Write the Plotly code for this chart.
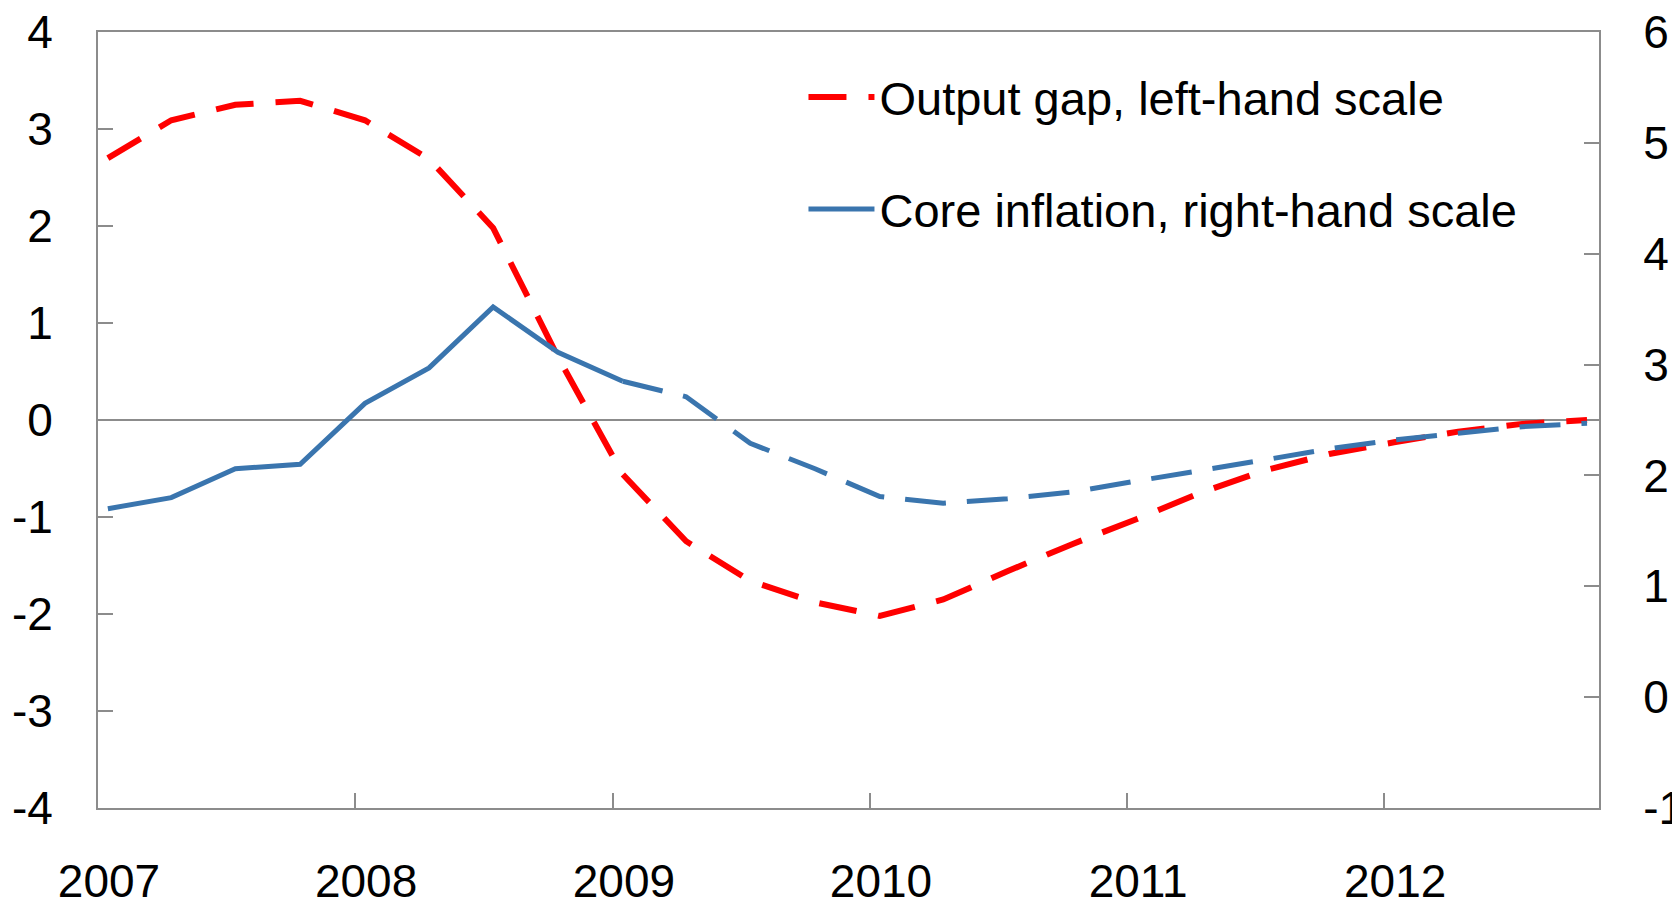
import plotly.graph_objects as go

quarters = ["2007-01-15", "2007-04-15", "2007-07-15", "2007-10-15",
            "2008-01-15", "2008-04-15", "2008-07-15", "2008-10-15",
            "2009-01-15", "2009-04-15", "2009-07-15", "2009-10-15",
            "2010-01-15", "2010-04-15", "2010-07-15", "2010-10-15",
            "2011-01-15", "2011-04-15", "2011-07-15", "2011-10-15",
            "2012-01-15", "2012-04-15", "2012-07-15", "2012-10-15"]

output_gap = [2.70, 3.09, 3.25, 3.29, 3.09, 2.69, 1.98, 0.65,
              -0.56, -1.25, -1.66, -1.88, -2.02, -1.85, -1.56, -1.28,
              -1.02, -0.75, -0.52, -0.35, -0.23, -0.12, -0.04, 0.00]

core_inflation = [1.70, 1.80, 2.06, 2.10, 2.65, 2.97, 3.52, 3.11,
                  2.85, 2.71, 2.29, 2.06, 1.81, 1.75, 1.79, 1.85,
                  1.95, 2.04, 2.14, 2.24, 2.32, 2.38, 2.44, 2.47]

forecast_start = 8  # index where projections begin (2009 Q1)

names = ["Output gap, left-hand scale", "Core inflation, right-hand scale"]

year_ticks = ["2007-01-01", "2008-01-01", "2009-01-01", "2010-01-01", "2011-01-01", "2012-01-01"]
year_labels = ["2007", "2008", "2009", "2010", "2011", "2012"]
left_ticks = [-4, -3, -2, -1, 0, 1, 2, 3, 4]
left_labels = ["-4", "-3", "-2", "-1", "0", "1", "2", "3", "4"]
right_ticks = [-1, 0, 1, 2, 3, 4, 5, 6]
right_labels = ["-1", "0", "1", "2", "3", "4", "5", "6"]

RED = "#ff0000"
BLUE = "#3a75ae"
GREY = "#8c8c8c"
FONT = "Liberation Sans, Arial, sans-serif"

fig = go.Figure()
fig.add_trace(go.Scatter(x=quarters, y=output_gap, mode="lines", name=names[0],
                         line=dict(color=RED, width=6, dash="38px,22px"),
                         yaxis="y", legendgroup="a"))
fig.add_trace(go.Scatter(x=quarters[:forecast_start + 1], y=core_inflation[:forecast_start + 1],
                         mode="lines", name=names[1],
                         line=dict(color=BLUE, width=5), yaxis="y2", legendgroup="b"))
fig.add_trace(go.Scatter(x=quarters[forecast_start:], y=core_inflation[forecast_start:],
                         mode="lines", name=names[1], showlegend=False,
                         line=dict(color=BLUE, width=5, dash="41px,21px"),
                         yaxis="y2", legendgroup="b"))

axis_common = dict(ticks="inside", ticklen=15, tickwidth=2, tickcolor=GREY,
                   showgrid=False, automargin=False, ticklabeloverflow="allow")

fig.update_layout(
    width=1672, height=895,
    margin=dict(l=90, r=81, t=24, b=95, autoexpand=False),
    paper_bgcolor="white", plot_bgcolor="white",
    font=dict(family=FONT, size=46, color="black"),
    showlegend=True,
    legend=dict(x=0.470, y=0.964, xanchor="left", yanchor="top",
                bgcolor="rgba(0,0,0,0)", font=dict(size=47, family=FONT, color="black"),
                tracegroupgap=48, itemwidth=66),
    xaxis=dict(type="date", range=["2007-01-01", "2012-11-01"],
               tickmode="array", tickvals=year_ticks, ticktext=year_labels,
               showline=True, linecolor=GREY, linewidth=2, mirror=True,
               zeroline=False, ticklabelshift=11, ticklabelstandoff=32,
               **axis_common),
    yaxis=dict(range=[-4, 4], tickmode="array", tickvals=left_ticks, ticktext=left_labels,
               showline=True, linecolor=GREY, linewidth=2, mirror=True,
               zeroline=True, zerolinecolor=GREY, zerolinewidth=2,
               ticklabelstandoff=34, **axis_common),
    yaxis2=dict(range=[-1, 6], tickmode="array", tickvals=right_ticks, ticktext=right_labels,
                overlaying="y", side="right",
                showline=True, linecolor=GREY, linewidth=2,
                zeroline=False, ticklabelstandoff=33, **axis_common),
)

fig.write_html("out.html")
